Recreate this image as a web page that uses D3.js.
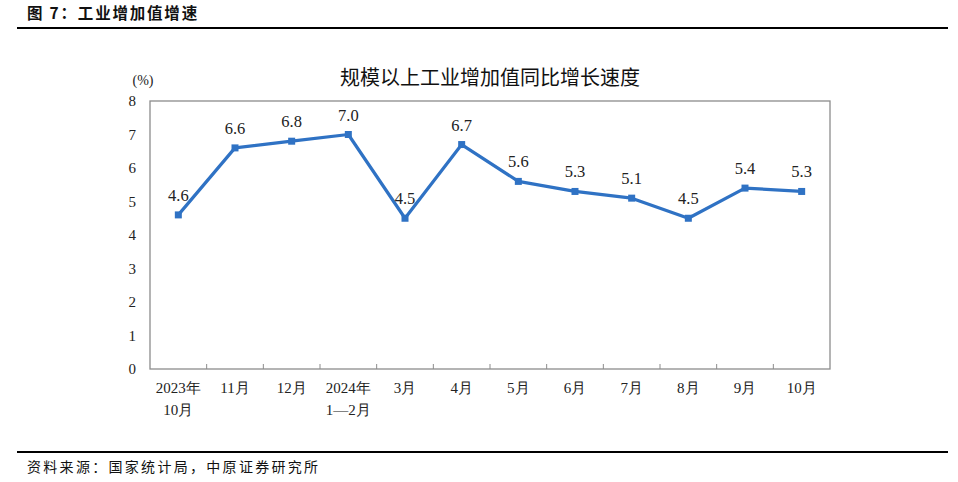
<!DOCTYPE html>
<html><head><meta charset="utf-8">
<script src="https://cdn.jsdelivr.net/npm/d3@7/dist/d3.min.js"></script>
<style>body{margin:0;background:#fff}svg{display:block}</style>
</head><body>
<svg id="c" width="958" height="482"></svg>
<script>
const categories = [["2023年","10月"],["11月"],["12月"],["2024年","1—2月"],["3月"],["4月"],["5月"],["6月"],["7月"],["8月"],["9月"],["10月"]];
const values = [4.6,6.6,6.8,7.0,4.5,6.7,5.6,5.3,5.1,4.5,5.4,5.3];
const yTicks = [0,1,2,3,4,5,6,7,8];

const svg = d3.select("#c");
const serif = "Liberation Serif, Times New Roman, serif";
const cjk = "Noto Sans CJK SC, sans-serif";
const L=150,R=830,T=101,B=369;
const x = d3.scaleBand().domain(d3.range(categories.length)).range([L,R]);
const y = d3.scaleLinear().domain([0,8]).range([B,T]);

// header
svg.append("text").attr("x",27).attr("y",19).attr("font-family",cjk).attr("font-weight","bold").attr("font-size",15.5).attr("letter-spacing",1.8).attr("fill","#111").text("图 7：工业增加值增速");
svg.append("line").attr("x1",17).attr("x2",948).attr("y1",28).attr("y2",28).attr("stroke","#000").attr("stroke-width",2);
svg.append("line").attr("x1",17).attr("x2",948).attr("y1",452).attr("y2",452).attr("stroke","#000").attr("stroke-width",2);
svg.append("text").attr("x",27).attr("y",472).attr("font-family",cjk).attr("font-size",14).attr("letter-spacing",2.3).attr("fill","#111").text("资料来源：国家统计局，中原证券研究所");

// title
svg.append("text").attr("x",490).attr("y",85).attr("text-anchor","middle").attr("font-family",cjk).attr("font-size",20).attr("fill","#111").text("规模以上工业增加值同比增长速度");
svg.append("text").attr("x",143).attr("y",85).attr("text-anchor","middle").attr("font-family",serif).attr("font-size",14).attr("fill","#222").text("(%)");

// frame
svg.append("rect").attr("x",L).attr("y",T).attr("width",R-L).attr("height",B-T).attr("fill","none").attr("stroke","#8c8c8c").attr("stroke-width",1.3);

// y axis
const ya = svg.append("g").attr("transform",`translate(${L},0)`).call(d3.axisLeft(y).tickValues(yTicks).tickSize(0).tickPadding(14).tickFormat(d3.format("d")));
ya.select(".domain").remove();
ya.selectAll("text").attr("font-family",serif).attr("font-size",15).attr("fill","#222");

// x axis
const xa = svg.append("g").attr("transform",`translate(0,${B})`).call(d3.axisBottom(x).tickSize(0).tickFormat(""));
xa.select(".domain").remove();
svg.append("g").selectAll("line").data(d3.range(1,categories.length)).join("line")
  .attr("x1",d=>x(d)).attr("x2",d=>x(d)).attr("y1",B).attr("y2",B-5).attr("stroke","#8c8c8c").attr("stroke-width",1);
const xl = svg.append("g").selectAll("text").data(categories).join("text")
  .attr("text-anchor","middle").attr("font-family",serif).attr("font-size",15).attr("fill","#222")
  .attr("transform",(d,i)=>`translate(${x(i)+x.bandwidth()/2},${B+24})`);
xl.selectAll("tspan").data(d=>d).join("tspan").attr("x",0).attr("dy",(d,i)=>i?22:0).text(d=>d);

// line
const col="#2F72C4";
svg.append("path").datum(values).attr("fill","none").attr("stroke",col).attr("stroke-width",3.2).attr("stroke-linejoin","round")
  .attr("d",d3.line().x((d,i)=>x(i)+x.bandwidth()/2).y(d=>y(d)));
svg.append("g").selectAll("rect").data(values).join("rect")
  .attr("x",(d,i)=>x(i)+x.bandwidth()/2-3.5).attr("y",d=>y(d)-3.5).attr("width",7).attr("height",7).attr("fill",col);
svg.append("g").selectAll("text").data(values).join("text")
  .attr("x",(d,i)=>x(i)+x.bandwidth()/2).attr("y",d=>y(d)-14).attr("text-anchor","middle")
  .attr("font-family",serif).attr("font-size",16.5).attr("fill","#222").text(d=>d.toFixed(1));
</script>
</body></html>
